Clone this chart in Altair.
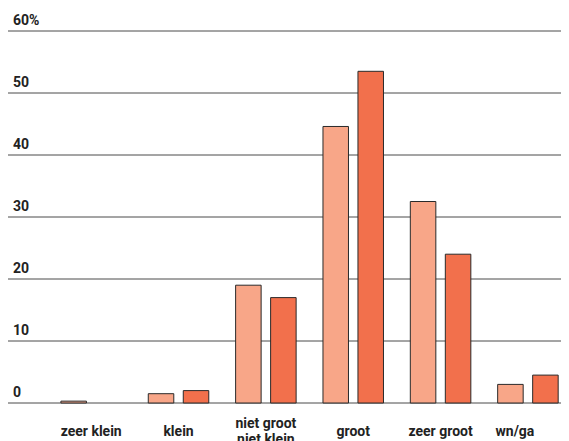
import altair as alt
import pandas as pd

categories = ["zeer klein", "klein", "niet groot niet klein", "groot", "zeer groot", "wn/ga"]
category_labels = ["zeer klein", "klein", "niet groot\nniet klein", "groot", "zeer groot", "wn/ga"]
series_names = ["meting 1", "meting 2"]
values_1 = [0.3, 1.5, 19.0, 44.6, 32.5, 3.0]
values_2 = [0.0, 2.0, 17.0, 53.5, 24.0, 4.5]
y_ticks = [0, 10, 20, 30, 40, 50, 60]
colors = ["#F8A688", "#F2704C"]

rows = []
for c, a, b in zip(categories, values_1, values_2):
    rows.append({"cat": c, "serie": series_names[0], "v": a})
    rows.append({"cat": c, "serie": series_names[1], "v": b})
df = pd.DataFrame(rows)
grid_df = pd.DataFrame({"t": y_ticks})
lab_df = pd.DataFrame({"cat": categories, "lab": category_labels})

FONT = "Roboto"
W, H = 553, 372
yscale = alt.Scale(domain=[0, 60], nice=False)
xscale = alt.Scale(domain=categories, range=[39.5, 563.6], paddingInner=0, paddingOuter=0)
lscale = alt.Scale(domain=categories, range=[42.7, 580.0], paddingInner=0, paddingOuter=0)

grid = alt.Chart(grid_df).mark_rule(color="#4a4a4a", strokeWidth=1).encode(
    y=alt.Y("t:Q", scale=yscale, axis=None),
    x=alt.value(-1), x2=alt.value(W + 10),
)

ylabels = alt.Chart(grid_df).transform_calculate(
    lab="datum.t == 60 ? '60%' : '' + datum.t"
).mark_text(align="left", baseline="alphabetic", dx=5, dy=-6, font=FONT,
            fontSize=14, fontWeight="bold", color="#222").encode(
    y=alt.Y("t:Q", scale=yscale, axis=None),
    x=alt.value(0),
    text="lab:N",
)

bars = alt.Chart(df).transform_filter("datum.v > 0").mark_bar(
    stroke="#2a2a2a", strokeWidth=1).encode(
    x=alt.X("cat:N", sort=categories, scale=xscale, axis=None),
    xOffset=alt.XOffset("serie:N", sort=series_names,
                        scale=alt.Scale(domain=series_names, paddingInner=0.271, paddingOuter=0.3835)),
    y=alt.Y("v:Q", scale=yscale, axis=None),
    color=alt.Color("serie:N", sort=series_names,
                    scale=alt.Scale(domain=series_names, range=colors), legend=None),
)

text_style = dict(align="center", baseline="alphabetic", font=FONT, fontSize=14,
                  fontWeight="bold", color="#222", lineBreak="\n", lineHeight=16)

xlab_base = alt.Chart(lab_df)
xlabels_single = xlab_base.transform_filter(
    "indexof(datum.lab, '\\n') < 0 && datum.cat != 'wn/ga'"
).mark_text(**text_style).encode(
    x=alt.X("cat:N", sort=categories, scale=lscale, axis=None),
    y=alt.value(H + 33),
    text="lab:N",
)
xlabels_last = xlab_base.transform_filter("datum.cat == 'wn/ga'").mark_text(
    dx=-13, **text_style).encode(
    x=alt.X("cat:N", sort=categories, scale=lscale, axis=None),
    y=alt.value(H + 33),
    text="lab:N",
)
xlabels_multi = xlab_base.transform_filter("indexof(datum.lab, '\\n') >= 0").mark_text(**text_style).encode(
    x=alt.X("cat:N", sort=categories, scale=lscale, axis=None),
    y=alt.value(H + 25),
    text="lab:N",
)

chart = alt.layer(grid, ylabels, bars, xlabels_single, xlabels_last, xlabels_multi).properties(
    width=W, height=H,
    autosize=alt.AutoSizeParams(type="none"),
    padding={"left": 0, "top": 23, "right": 0, "bottom": 40},
).configure_view(stroke=None)

chart.save("out.html", embed_options={"renderer": "svg", "actions": False})
